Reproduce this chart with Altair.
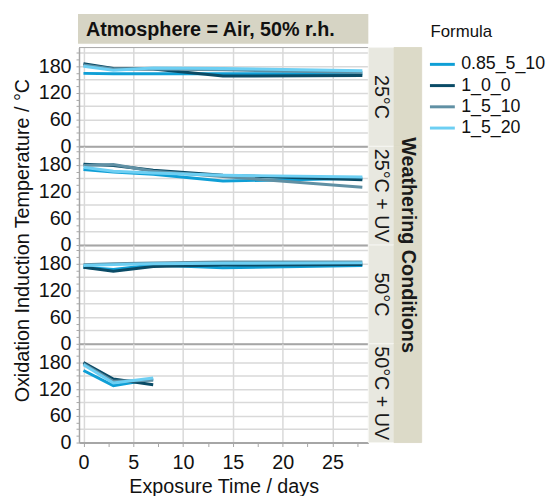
import altair as alt
import pandas as pd

FONT = "Liberation Sans"

days = [0, 3, 7, 14, 28]
days_short = [0, 3, 7]
formulas = ["0.85_5_10", "1_0_0", "1_5_10", "1_5_20"]
colors = ["#0f9fd6", "#0a4b66", "#6090a4", "#6dcff3"]
conditions = ["25°C", "25°C + UV", "50°C", "50°C + UV"]
header_text = "Atmosphere = Air, 50% r.h."
outer_text = "Weathering Conditions"

c25_f085 = [164, 163, 163, 163, 163]
c25_f100 = [186, 175, 174, 158, 159]
c25_f1510 = [183, 174, 174, 172, 166]
c25_f1520 = [180, 171, 176, 175, 170]

c25uv_f085 = [170, 164, 159, 144, 150]
c25uv_f100 = [182, 179, 168, 157, 147]
c25uv_f1510 = [179, 181, 166, 154, 130]
c25uv_f1520 = [175, 166, 162, 157, 153]

c50_f085 = [172, 167, 177, 171, 176]
c50_f100 = [172, 163, 174, 177, 178]
c50_f1510 = [178, 180, 182, 184, 184]
c50_f1520 = [176, 178, 180, 181, 182]

c50uv_f085 = [162, 128, 143]
c50uv_f100 = [180, 143, 130]
c50uv_f1510 = [177, 138, 140]
c50uv_f1520 = [175, 134, 145]

series = {
    "25°C": (days, [c25_f085, c25_f100, c25_f1510, c25_f1520]),
    "25°C + UV": (days, [c25uv_f085, c25uv_f100, c25uv_f1510, c25uv_f1520]),
    "50°C": (days, [c50_f085, c50_f100, c50_f1510, c50_f1520]),
    "50°C + UV": (days_short, [c50uv_f085, c50uv_f100, c50uv_f1510, c50uv_f1520]),
}

rows = []
for cond in conditions:
    xs, ys = series[cond]
    for f, vals in zip(formulas, ys):
        for x, v in zip(xs, vals):
            rows.append({"cond": cond, "formula": f, "day": x, "oit": v})
df = pd.DataFrame(rows)

W, H = 293, 100
HEAD_H = 34
SW, OW = 26, 28
x_vals = [i * 2.5 for i in range(12)]
y_vals = [i * 15 for i in range(15)]
GRID = "#d9d9d9"
AXC = "#a6a6a6"

legend = alt.Legend(
    title="Formula", orient="none", legendX=356, legendY=10,
    symbolType="M-1.2,0H1.2", symbolSize=441, symbolStrokeWidth=3,
    labelFontSize=18, titleFontSize=17, titleFontWeight="normal",
    labelFont=FONT, titleFont=FONT, labelColor="#111", titleColor="#111",
    labelOffset=7, rowPadding=0.5, titlePadding=12, padding=0,
)


def panel(idx, cond):
    d = df[df.cond == cond]
    bottom = idx == 3
    xaxis = alt.Axis(
        values=x_vals,
        labels=bottom,
        ticks=bottom,
        tickSize=4,
        tickColor=AXC,
        labelExpr="datum.value % 5 === 0 ? datum.label : ''",
        labelFontSize=20, labelFont=FONT, labelColor="#111", labelPadding=6,
        labelFlush=False,
        grid=True, gridColor=GRID, gridWidth=1.5,
        gridOpacity={"condition": {"test": "datum.value % 5 === 0", "value": 1}, "value": 0},
        domainColor=AXC, domainWidth=2,
        titleFontSize=20, titleFont=FONT, titleFontWeight="normal", titleColor="#111",
        titlePadding=5,
    )
    yaxis_kwargs = dict(
        values=y_vals,
        labelExpr="datum.value % 60 === 0 ? datum.label : ''",
        labelFontSize=20, labelFont=FONT, labelColor="#111", labelPadding=5,
        labelFlush=False,
        tickSize=3, tickColor=AXC,
        grid=True, gridColor=GRID, gridWidth=1.5,
        gridOpacity={"condition": {"test": "datum.value % 30 === 0", "value": 1}, "value": 0},
        domainColor=AXC, domainWidth=1.5,
    )
    if idx == 1:
        yaxis = alt.Axis(
            titleFontSize=20, titleFont=FONT, titleFontWeight="normal", titleColor="#111",
            titleX=-51, titleY=95, titleAngle=270, titleAlign="center",
            titleBaseline="alphabetic",
            **yaxis_kwargs,
        )
        ytitle = "Oxidation Induction Temperature / °C"
    else:
        yaxis = alt.Axis(**yaxis_kwargs)
        ytitle = None
    lines = alt.Chart(d).mark_line(strokeWidth=3).encode(
        x=alt.X("day:Q", scale=alt.Scale(domain=[-0.45, 28.6], nice=False, zero=False),
                axis=xaxis, title="Exposure Time / days" if bottom else None),
        y=alt.Y("oit:Q", scale=alt.Scale(domain=[0, 222], nice=False),
                axis=yaxis, title=ytitle),
        color=alt.Color("formula:N", scale=alt.Scale(domain=formulas, range=colors), legend=legend),
        detail="formula:N",
    )
    layers = [lines]
    if idx == 0:
        top = alt.Chart(pd.DataFrame({"a": [0]})).mark_rule(color=AXC, strokeWidth=1).encode(
            x=alt.value(0), x2=alt.value(W), y=alt.value(0))
        layers.append(top)
    return alt.layer(*layers).properties(width=W, height=H)


def strip(label, w, h, fill, weight, ty, stroke):
    base = alt.Chart(pd.DataFrame({"label": [label]}))
    rect = base.mark_rect(fill=fill, stroke=stroke, strokeWidth=1).encode(
        x=alt.value(0), x2=alt.value(w), y=alt.value(0), y2=alt.value(h))
    layers = [rect]
    if label:
        txt = base.mark_text(angle=90, fontSize=20, fontWeight=weight, font=FONT, color="#1a1a1a",
                             align="center", baseline="middle").encode(
            x=alt.value(w / 2), y=alt.value(ty), text="label:N")
        layers.append(txt)
    return alt.layer(*layers).properties(width=w, height=h)


def blank(w, h):
    return alt.Chart(pd.DataFrame({"a": [0]})).mark_point(opacity=0).encode(
        x=alt.value(0), y=alt.value(0)).properties(width=w, height=h)


hbase = alt.Chart(pd.DataFrame({"label": [header_text]}))
header = alt.layer(
    hbase.mark_rect(fill="#d6d4c4").encode(
        x=alt.value(-1), x2=alt.value(W), y=alt.value(0), y2=alt.value(30)),
    hbase.mark_text(fontSize=20, fontWeight="bold", font=FONT, color="#111",
                    align="left", baseline="middle").encode(
        x=alt.value(7), y=alt.value(16), text="label:N"),
).properties(width=W, height=HEAD_H)

cells = [header, blank(SW, HEAD_H), blank(OW, HEAD_H)]
for i, c in enumerate(conditions):
    cells.append(panel(i, c))
    cells.append(strip(c, SW, H, "#e8e8e0", "normal", H / 2, "#f6f6f2"))
    if i == 3:
        cells.append(strip(outer_text, OW, H, "#dcdac8", "bold", H / 2 - 150, "#dcdac8"))
    else:
        cells.append(strip("", OW, H, "#dcdac8", "bold", 0, "#dcdac8"))

chart = alt.concat(*cells, columns=3, spacing=0, bounds="flush").properties(
    padding={"left": 12, "top": 7, "right": 5, "bottom": 0}
).configure_view(stroke="transparent")

chart.save("out.html", embed_options={"renderer": "svg", "actions": False})
